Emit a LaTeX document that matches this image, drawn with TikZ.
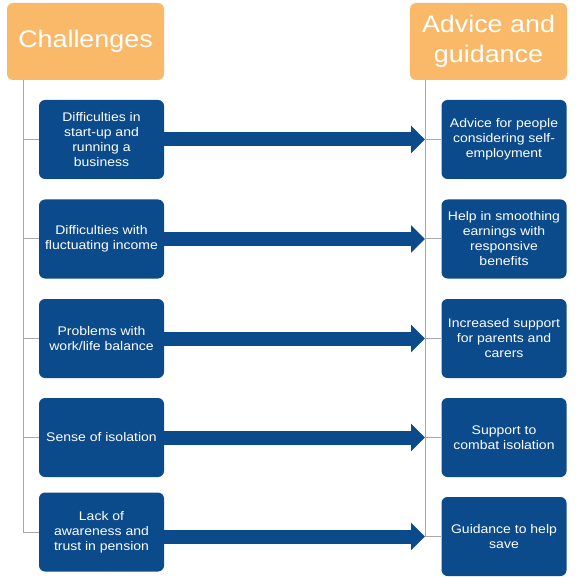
\documentclass[tikz,border=0pt]{standalone}
\usepackage{fontspec}
\setmainfont{Liberation Sans}[FakeStretch=1.12]
\usepackage{tikz}
\usetikzlibrary{arrows.meta, positioning, calc}

\definecolor{boxblue}{HTML}{0B4A8B}
\definecolor{headorange}{HTML}{F9B968}
\definecolor{spinegray}{HTML}{A9A9A9}

\tikzset{
  head/.style={fill=headorange, rounded corners=6pt, minimum width=157pt,
    minimum height=77pt, text=white, align=center,
    font=\fontsize{24}{30}\selectfont, inner sep=0pt},
  chal/.style={fill=boxblue, rounded corners=6pt, minimum width=125pt,
    minimum height=79pt, text=white, align=center,
    font=\fontsize{12.5}{15}\selectfont, inner sep=0pt},
  spine/.style={draw=spinegray, line width=1pt},
  arr/.style={draw=boxblue, line width=14pt,
    -{Triangle[width=27pt,length=14pt]}}
}

\begin{document}
\begin{tikzpicture}[x=1pt,y=-1pt]
  \useasboundingbox (0,0) rectangle (583,577);

  % Intestazioni
  \node[head] (HL) at (85.5,41.5) {Challenges};
  \node[head] (HR) at (488.5,41.5) {Advice and\\guidance};

  % Colonna sinistra
  \node[chal] (L1) at (101.5,139.5) {Difficulties in\\start-up and\\running a\\business};
  \node[chal] (L2) at (101.5,239) {Difficulties with\\fluctuating income};
  \node[chal] (L3) at (101.5,338.5) {Problems with\\work/life balance};
  \node[chal] (L4) at (101.5,437.5) {Sense of isolation};
  \node[chal] (L5) at (101.5,532) {Lack of\\awareness and\\trust in pension};

  % Colonna destra
  \node[chal] (R1) at (504,139.5) {Advice for people\\considering self-\\employment};
  \node[chal] (R2) at (504,239) {Help in smoothing\\earnings with\\responsive\\benefits};
  \node[chal] (R3) at (504,338.5) {Increased support\\for parents and\\carers};
  \node[chal] (R4) at (504,437.5) {Support to\\combat isolation};
  \node[chal] (R5) at (504,536.5) {Guidance to help\\save};

  % Linee verticali
  \coordinate (sl) at (23,0);
  \coordinate (sr) at (425,0);
  \draw[spine] (HL.south -| sl) -- (sl |- L5.west);
  \draw[spine] (HR.south -| sr) -- (sr |- R5.west);

  % Rami
  \draw[spine] (sl |- L1.west) -- (L1.west);
  \draw[spine] (sl |- L2.west) -- (L2.west);
  \draw[spine] (sl |- L3.west) -- (L3.west);
  \draw[spine] (sl |- L4.west) -- (L4.west);
  \draw[spine] (sl |- L5.west) -- (L5.west);
  \draw[spine] (sr |- R1.west) -- (R1.west);
  \draw[spine] (sr |- R2.west) -- (R2.west);
  \draw[spine] (sr |- R3.west) -- (R3.west);
  \draw[spine] (sr |- R4.west) -- (R4.west);
  \draw[spine] (sr |- R5.west) -- (R5.west);

  % Frecce
  \draw[arr] (L1.east) -- (L1.east -| sr);
  \draw[arr] (L2.east) -- (L2.east -| sr);
  \draw[arr] (L3.east) -- (L3.east -| sr);
  \draw[arr] (L4.east) -- (L4.east -| sr);
  \draw[arr] (L5.east |- R5.west) -- (sr |- R5.west);
\end{tikzpicture}
\end{document}
